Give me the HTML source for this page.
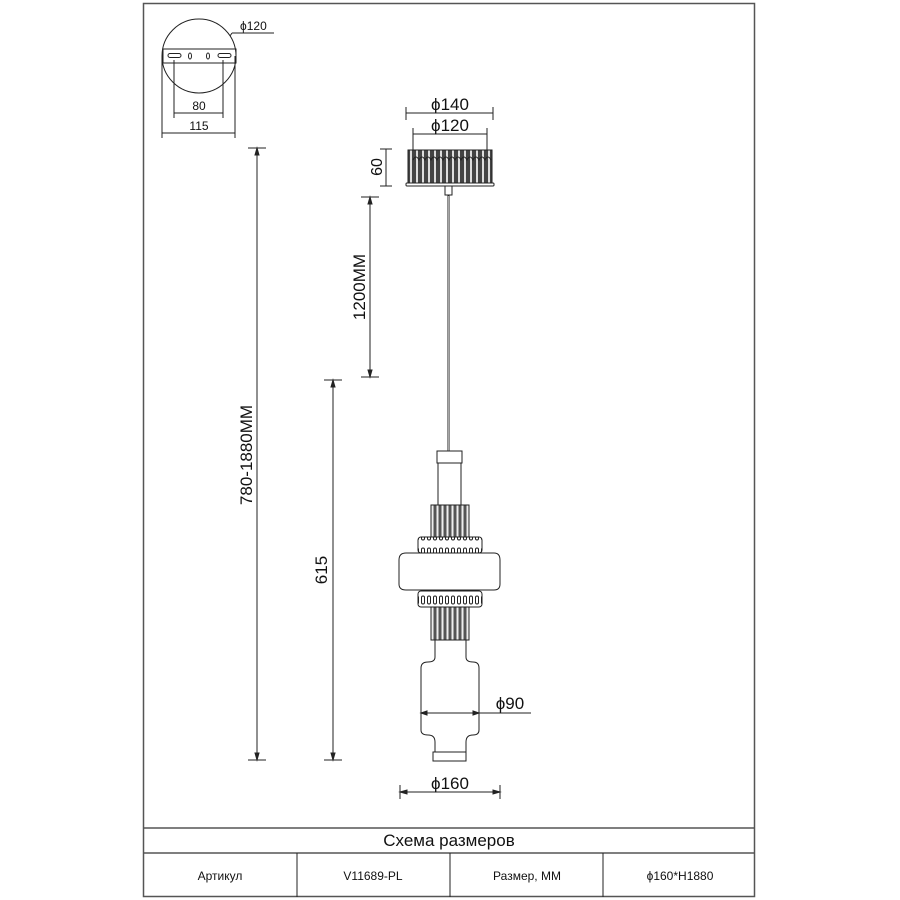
<!DOCTYPE html>
<html><head><meta charset="utf-8"><style>
html,body{margin:0;padding:0;background:#fff}
svg{display:block}
text{font-family:"Liberation Sans","DejaVu Sans",sans-serif;fill:#111}
</style></head><body>
<svg width="900" height="900" viewBox="0 0 900 900" xmlns="http://www.w3.org/2000/svg">
<defs>
<pattern id="rib" width="6" height="10" patternUnits="userSpaceOnUse">
<rect width="6" height="10" fill="#444"/><rect x="2" width="2" height="10" fill="#ddd"/>
</pattern>
<pattern id="rib2" width="5" height="10" patternUnits="userSpaceOnUse">
<rect width="5" height="10" fill="#555"/><rect x="1.5" width="2" height="10" fill="#eee"/>
</pattern>
<pattern id="slot" x="420" width="6" height="16" patternUnits="userSpaceOnUse">
<rect width="6" height="16" fill="#fff"/><rect x="1.5" y="4" width="3" height="8" rx="1.5" fill="#fff" stroke="#222" stroke-width="1"/>
</pattern>
</defs>
<g fill="none" stroke="#222" stroke-width="1">
<rect x="143.5" y="3.5" width="611" height="893" stroke="#555" stroke-width="1.5"/>
<line x1="143" y1="828" x2="755" y2="828" stroke="#555" stroke-width="1.5"/>
<line x1="143" y1="853" x2="755" y2="853" stroke="#555" stroke-width="1.5"/>
<line x1="297" y1="853" x2="297" y2="897"/>
<line x1="450" y1="853" x2="450" y2="897"/>
<line x1="603" y1="853" x2="603" y2="897"/>

<circle cx="199" cy="56" r="37"/>
<rect x="163" y="49" width="73" height="14"/>
<rect x="168" y="53.5" width="13" height="4" rx="2"/>
<rect x="218" y="53.5" width="13" height="4" rx="2"/>
<ellipse cx="190" cy="56" rx="1.5" ry="3"/><ellipse cx="208" cy="56" rx="1.5" ry="3"/>
<line x1="232" y1="33" x2="274" y2="33"/>
<line x1="232" y1="33" x2="230" y2="36"/>
<line x1="174" y1="60" x2="174" y2="118"/><line x1="223" y1="60" x2="223" y2="118"/>
<line x1="174" y1="113" x2="223" y2="113"/>
<line x1="162" y1="56" x2="162" y2="138"/><line x1="235" y1="56" x2="235" y2="138"/>
<line x1="162" y1="133" x2="235" y2="133"/>

<line x1="406" y1="107" x2="406" y2="120"/><line x1="493" y1="107" x2="493" y2="120"/>
<line x1="406" y1="113" x2="493" y2="113"/>
<line x1="413" y1="128" x2="413" y2="150"/><line x1="487" y1="128" x2="487" y2="150"/>
<line x1="413" y1="134" x2="487" y2="134"/>
<line x1="380" y1="149" x2="392" y2="149"/><line x1="380" y1="186" x2="392" y2="186"/>
<line x1="386" y1="149" x2="386" y2="186"/>
</g>
<rect x="408" y="150" width="84" height="33" fill="url(#rib)" stroke="#222"/>
<path d="M413 160 q3 -6 6 0 q3 -6 6 0 q3 -6 6 0 q3 -6 6 0 q3 -6 6 0 q3 -6 6 0 q3 -6 6 0 q3 -6 6 0 q3 -6 6 0 q3 -6 6 0 q3 -6 6 0 q3 -6 6 0 q3 -6 6 0" fill="none" stroke="#222"/>
<rect x="406" y="183" width="88" height="3" rx="1" fill="#fff" stroke="#222"/>
<rect x="445" y="186" width="7" height="9" fill="#fff" stroke="#222"/>
<line x1="448.5" y1="195" x2="448.5" y2="451" stroke="#222" stroke-width="2"/>
<line x1="448.5" y1="196" x2="448.5" y2="451" stroke="#fff" stroke-width="0.6"/>

<g fill="none" stroke="#222" stroke-width="1">
<rect x="437" y="451" width="25" height="12" fill="#fff"/>
<rect x="438" y="463" width="23" height="42" fill="#fff"/>
<rect x="431" y="505" width="38" height="32" fill="url(#rib2)"/>
<rect x="418" y="537" width="64" height="16" rx="3" fill="url(#slot)"/>
<path d="M406 553 H494 Q500 553 500 560 V584 Q500 590 494 590 H406 Q399 590 399 584 V560 Q399 553 406 553 Z" fill="#fff"/>
<rect x="418" y="591" width="64" height="16" rx="3" fill="url(#slot)"/>
<rect x="431" y="607" width="38" height="33" fill="url(#rib2)"/>
<path d="M435 640 V657 Q435 662 428 662 Q421 662 421 668 V730 Q421 735 428 735 Q435 735 435 742 V752 M466 640 V657 Q466 662 473 662 Q479 662 479 668 V730 Q479 735 473 735 Q466 735 466 742 V752" fill="#fff"/>
<rect x="433" y="752" width="33" height="9" fill="#fff"/>
<line x1="421" y1="713" x2="531" y2="713"/>
<path d="M421 713 l6 -2 v4 z M479 713 l-6 -2 v4 z" fill="#222"/>
<line x1="400" y1="785" x2="400" y2="799"/><line x1="500" y1="785" x2="500" y2="799"/>
<line x1="400" y1="792" x2="500" y2="792"/>
<path d="M400 792 l7 -2 v4 z M500 792 l-7 -2 v4 z" fill="#222"/>
<line x1="248" y1="148" x2="266" y2="148"/><line x1="248" y1="760" x2="266" y2="760"/>
<line x1="257" y1="148" x2="257" y2="760"/>
<path d="M257 148 l-2 7 h4 z M257 760 l-2 -7 h4 z" fill="#222"/>
<line x1="361" y1="197" x2="379" y2="197"/><line x1="361" y1="377" x2="379" y2="377"/>
<line x1="370" y1="197" x2="370" y2="377"/>
<path d="M370 197 l-2 7 h4 z M370 377 l-2 -7 h4 z" fill="#222"/>
<line x1="324" y1="380" x2="342" y2="380"/><line x1="324" y1="760" x2="342" y2="760"/>
<line x1="333" y1="380" x2="333" y2="760"/>
<path d="M333 380 l-2 7 h4 z M333 760 l-2 -7 h4 z" fill="#222"/>
</g>

<text x="240" y="30" font-size="12">ϕ120</text>
<text x="199" y="110" font-size="12" text-anchor="middle">80</text>
<text x="199" y="130" font-size="12" text-anchor="middle">115</text>
<text x="450" y="110" font-size="17" text-anchor="middle">ϕ140</text>
<text x="450" y="131" font-size="17" text-anchor="middle">ϕ120</text>
<text transform="translate(382,167) rotate(-90)" font-size="16" text-anchor="middle">60</text>
<text transform="translate(365,287) rotate(-90)" font-size="17" text-anchor="middle">1200MM</text>
<text transform="translate(252,455) rotate(-90)" font-size="17" text-anchor="middle">780-1880MM</text>
<text transform="translate(327,570) rotate(-90)" font-size="17" text-anchor="middle">615</text>
<text x="510" y="709" font-size="17" text-anchor="middle">ϕ90</text>
<text x="450" y="789" font-size="17" text-anchor="middle">ϕ160</text>

<text x="449" y="846" font-size="17" text-anchor="middle">Схема размеров</text>
<text x="220" y="880" font-size="12" text-anchor="middle">Артикул</text>
<text x="373" y="880" font-size="12" text-anchor="middle">V11689-PL</text>
<text x="527" y="880" font-size="12" text-anchor="middle">Размер, MM</text>
<text x="680" y="880" font-size="12" text-anchor="middle">ϕ160*H1880</text>
</svg>
</body></html>
